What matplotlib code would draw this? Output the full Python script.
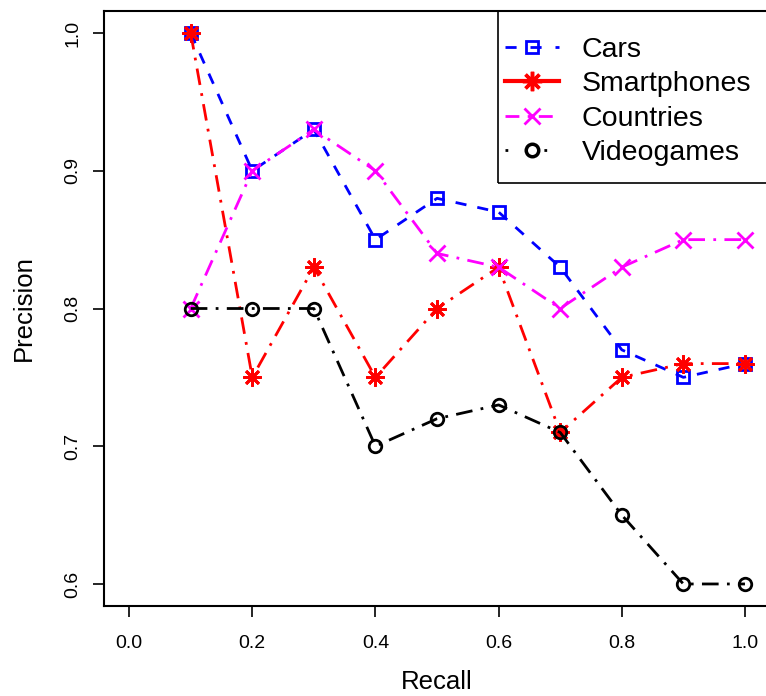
import matplotlib
matplotlib.use("Agg")
import matplotlib.pyplot as plt
from matplotlib.lines import Line2D
from matplotlib.patches import Rectangle

plt.rcParams["font.family"] = ["Liberation Sans", "DejaVu Sans"]

# ------------- data -------------
recall = [0.1, 0.2, 0.3, 0.4, 0.5, 0.6, 0.7, 0.8, 0.9, 1.0]
cars = [1.00, 0.90, 0.93, 0.85, 0.88, 0.87, 0.83, 0.77, 0.75, 0.76]
smartphones = [1.00, 0.75, 0.83, 0.75, 0.80, 0.83, 0.71, 0.75, 0.76, 0.76]
countries = [0.80, 0.90, 0.93, 0.90, 0.84, 0.83, 0.80, 0.83, 0.85, 0.85]
videogames = [0.80, 0.80, 0.80, 0.70, 0.72, 0.73, 0.71, 0.65, 0.60, 0.60]
names = ["Cars", "Smartphones", "Countries", "Videogames"]

x_ticks = [0.0, 0.2, 0.4, 0.6, 0.8, 1.0]
y_ticks = [0.6, 0.7, 0.8, 0.9, 1.0]

W, H = 766, 696

# ------------- figure -------------
fig = plt.figure(figsize=(W / 100, H / 100), dpi=100)
ax = fig.add_axes([0.1364, 0.1293, 0.8683, 0.8549])

dashdot = (6, 3, 1, 3)
ax.plot(recall, cars, color="blue", lw=2, dashes=(4, 4), marker="s",
        ms=9, mfc="none", mew=2)
ax.plot(recall, smartphones, color="red", lw=2, dashes=dashdot,
        marker=(8, 2, 0), ms=13, mew=2)
ax.plot(recall, countries, color="magenta", lw=2, dashes=dashdot,
        marker="x", ms=11, mew=2)
ax.plot(recall, videogames, color="black", lw=2, dashes=dashdot,
        marker="o", ms=9, mfc="none", mew=2)

ax.set_xlim(-0.04, 1.04)
ax.set_ylim(0.584, 1.016)
ax.set_xticks(x_ticks)
ax.set_xticklabels([f"{v:.1f}" for v in x_ticks])
ax.set_yticks(y_ticks)
ax.set_yticklabels([f"{v:.1f}" for v in y_ticks], rotation=90, va="center")
ax.tick_params(direction="out", length=8, width=1.2, labelsize=14)
ax.tick_params(axis="x", pad=13)
ax.tick_params(axis="y", pad=8.5)
for s in ax.spines.values():
    s.set_linewidth(1.5)
ax.set_xlabel("Recall", fontsize=18.5, labelpad=13)
ax.set_ylabel("Precision", fontsize=18.5, labelpad=21)

# legend (frame drawn separately so it can run off the right edge like R's)
handles = [
    Line2D([], [], color="blue", lw=2, dashes=(4, 5), marker="s", ms=9,
           mfc="none", mew=2),
    Line2D([], [], color="red", lw=3, marker=(8, 2, 0), ms=14, mew=2.5),
    Line2D([], [], color="magenta", lw=2, dashes=(5, 3, 1, 3), marker="x",
           ms=11, mew=2),
    Line2D([], [], color="black", lw=2, dashes=(1, 6), marker="o", ms=9,
           mfc="none", mew=2.5),
]
leg = ax.legend(handles, names, loc="upper left",
                bbox_to_anchor=(505 / W, 1 - 37 / H), bbox_transform=fig.transFigure,
                borderaxespad=0, borderpad=0, fontsize=20.5, frameon=False,
                handlelength=1.9, handletextpad=0.8, labelspacing=0.29)
fig.patches.append(Rectangle((498 / W, 1 - 183 / H), 300 / W, 172 / H,
                             transform=fig.transFigure, fill=False,
                             edgecolor="black", lw=1.2))

fig.savefig("out.png", dpi=100)
